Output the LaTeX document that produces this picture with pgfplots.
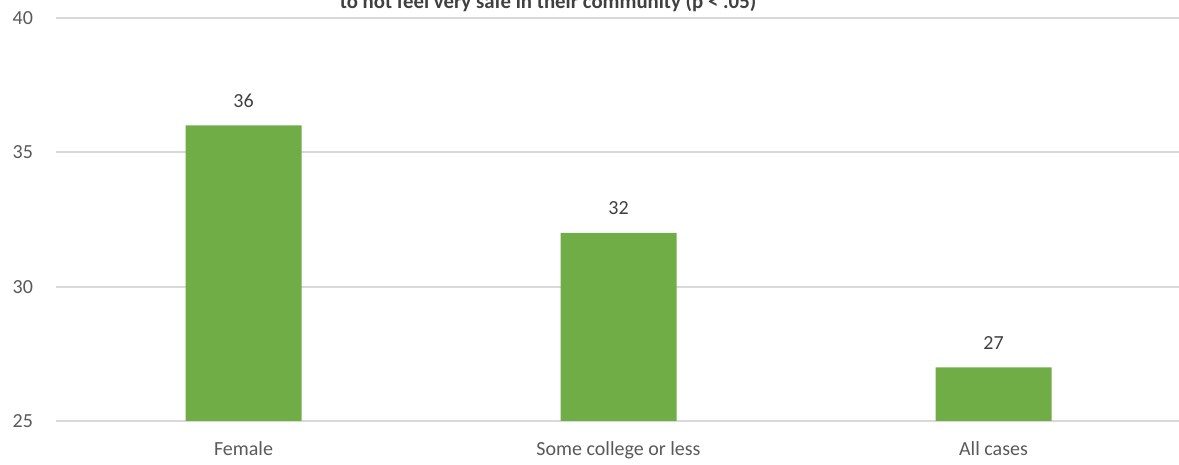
\documentclass[border=0pt]{standalone}
\usepackage{pgfplots}
\pgfplotsset{compat=1.18}
\usepackage{fontspec}
\setmainfont{Carlito}
\definecolor{bargreen}{HTML}{70AD47}
\definecolor{gridgray}{HTML}{D9D9D9}
\definecolor{ticktext}{HTML}{595959}
\definecolor{labeltext}{HTML}{404040}
\begin{document}
\begin{tikzpicture}
\begin{axis}[
    at={(28pt,22pt)}, anchor=south west,
    scale only axis,
    width=562.5pt, height=201.5pt,
    ymin=25, ymax=40, ytick={25,30,35,40},
    xmin=-0.5, xmax=2.5,
    xtick=data, xticklabels={Female,Some college or less,All cases},
    ybar, bar width=58pt,
    axis line style={draw=none},
    ymajorgrids, grid style={gridgray, line width=1pt},
    major tick length=0pt,
    ticklabel style={font=\fontsize{10}{12}\selectfont, text=ticktext},
    yticklabel style={xshift=-8pt},
    xticklabel style={yshift=-7pt},
    /pgf/number format/assume math mode=true,
    nodes near coords,
    every node near coord/.append style={font=\fontsize{10}{12}\selectfont, text=labeltext, yshift=5.5pt},
    clip=false,
]
\addplot[fill=bargreen, draw=none] coordinates {(0,36) (1,32) (2,27)};
\end{axis}
% title sits mostly above the visible area, as in the source
\node[anchor=base, font=\bfseries\fontsize{10.4}{12}\selectfont, text=labeltext] at (274pt,228pt) {to not feel very safe in their community (p < .05)};
\pgfresetboundingbox
\useasboundingbox (0,0) rectangle (589.5pt,232.5pt);
\end{tikzpicture}
\end{document}
